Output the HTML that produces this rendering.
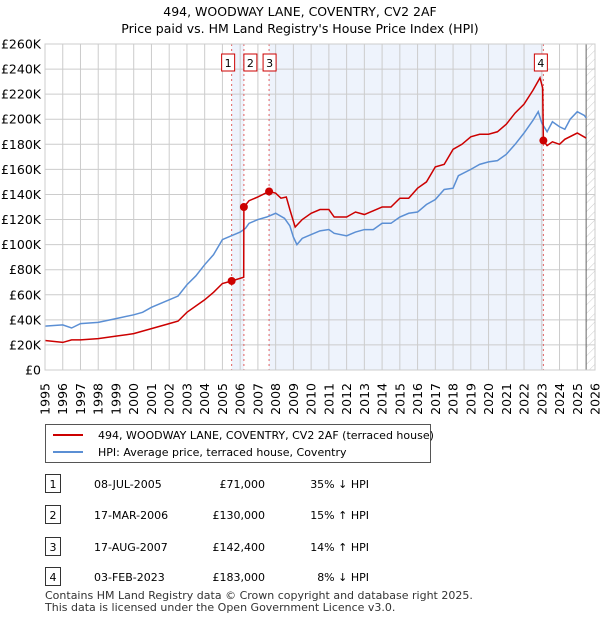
<!DOCTYPE html>
<html><head><meta charset="utf-8"><style>
body{margin:0;background:#fff;font-family:"Liberation Sans","DejaVu Sans",sans-serif;}
svg text{font-family:"DejaVu Sans","Liberation Sans",sans-serif;}
</style></head><body>
<svg id="chart" width="600" height="620" viewBox="0 0 600 620" xmlns="http://www.w3.org/2000/svg">
<defs><pattern id="hatch" width="6" height="6" patternUnits="userSpaceOnUse" patternTransform="rotate(45)"><line x1="0" y1="0" x2="0" y2="6" stroke="#ccc" stroke-width="1"/></pattern></defs>
<text x="300" y="16" text-anchor="middle" font-size="12.5">494, WOODWAY LANE, COVENTRY, CV2 2AF</text>
<text x="300" y="33" text-anchor="middle" font-size="12.5">Price paid vs. HM Land Registry's House Price Index (HPI)</text>
<g id="plot"></g>
<g>
<rect x="45.5" y="424.5" width="385" height="38" fill="#fff" stroke="#555"/>
<line x1="53" y1="435" x2="83" y2="435" stroke="#cc0000" stroke-width="2"/>
<text x="98" y="439" font-size="11">494, WOODWAY LANE, COVENTRY, CV2 2AF (terraced house)</text>
<line x1="53" y1="452" x2="83" y2="452" stroke="#5b8fd4" stroke-width="2"/>
<text x="98" y="456" font-size="11">HPI: Average price, terraced house, Coventry</text>
</g>
<g id="table" font-size="11"></g>
<text x="45" y="599" font-size="11" fill="#333">Contains HM Land Registry data © Crown copyright and database right 2025.</text>
<text x="45" y="611" font-size="11" fill="#333">This data is licensed under the Open Government Licence v3.0.</text>
</svg>
<script>
const hpiYears=[1995,1996,1996.5,1997,1998,1999,2000,2000.5,2001,2002,2002.5,2003,2003.5,2004,2004.5,2005,2005.5,2006,2006.3,2006.5,2007,2007.5,2008,2008.5,2008.8,2009,2009.2,2009.5,2010,2010.5,2011,2011.3,2012,2012.5,2013,2013.5,2014,2014.5,2015,2015.5,2016,2016.5,2017,2017.5,2018,2018.3,2019,2019.5,2020,2020.5,2021,2021.5,2022,2022.5,2022.8,2023,2023.3,2023.6,2024,2024.3,2024.6,2025,2025.4,2025.5];
const hpiValues=[35,36,33.5,37,38,41,44,46,50,56,59,68,75,84,92,104,107,110,113,117,120,122,125,121,115,106,100,105,108,111,112,109,107,110,112,112,117,117,122,125,126,132,136,144,145,155,160,164,166,167,172,180,189,199,206,197,190,198,194,192,200,206,203,201];
const priceYears=[1995,1996,1996.5,1997,1998,1999,2000,2001,2002,2002.5,2003,2004,2004.5,2005,2005.52,2006.2,2006.21,2006.5,2007,2007.63,2008,2008.3,2008.6,2008.8,2009.1,2009.5,2010,2010.5,2011,2011.3,2012,2012.5,2013,2013.5,2014,2014.5,2015,2015.5,2016,2016.5,2017,2017.5,2018,2018.5,2019,2019.5,2020,2020.5,2021,2021.5,2022,2022.5,2022.9,2023.05,2023.09,2023.3,2023.6,2024,2024.3,2025,2025.5];
const priceValues=[23.5,22,24,24,25,27,29,33,37,39,46,56,62,69,71,74,130,135,138,142.4,141,137,138,128,114,120,125,128,128,122,122,126,124,127,130,130,137,137,145,150,162,164,176,180,186,188,188,190,196,205,212,223,233,225,183,179,182,180,184,189,185];
const saleLabels=["1","2","3","4"];
const saleYears=[2005.52,2006.21,2007.63,2023.09];
const salePrices=[71,130,142.4,183];
const saleDates=["08-JUL-2005","17-MAR-2006","17-AUG-2007","03-FEB-2023"];
const salePriceText=["£71,000","£130,000","£142,400","£183,000"];
const saleHpiText=["35% ↓ HPI","15% ↑ HPI","14% ↑ HPI","8% ↓ HPI"];
const yTicks=[0,20,40,60,80,100,120,140,160,180,200,220,240,260];
const xTicks=[];for(let y=1995;y<=2026;y++)xTicks.push(y);

const NS="http://www.w3.org/2000/svg";
const X0=45,X1=595,Y0=370,Y1=44;
const xs=y=>X0+(y-1995)/(2026-1995)*(X1-X0);
const ys=v=>Y0-v/260*(Y0-Y1);
const plot=document.getElementById('plot');
function mk(tag,attrs,parent){const e=document.createElementNS(NS,tag);for(const k in attrs)e.setAttribute(k,attrs[k]);(parent||plot).appendChild(e);return e;}

let e;
e=mk('rect',{x:xs(saleYears[0]),y:Y1,width:xs(saleYears[1])-xs(saleYears[0]),height:Y0-Y1,fill:'#eef3fc'});


e=mk('rect',{x:xs(saleYears[2]),y:Y1,width:xs(saleYears[3])-xs(saleYears[2]),height:Y0-Y1,fill:'#eef3fc'});


e=mk('rect',{x:xs(2025.5),y:Y1,width:X1-xs(2025.5),height:Y0-Y1,fill:'url(#hatch)'});


yTicks.forEach(v=>{
 e=mk('line',{x1:X0,x2:X1,y1:ys(v),y2:ys(v),stroke:'#ccc','stroke-width':1});
 
 
 e=mk('text',{x:X0-4,y:ys(v)+4.5,'text-anchor':'end','font-size':12.5});
 e.textContent=v===0?'£0':'£'+v+'K';
 
 
});
xTicks.forEach(y=>{
 e=mk('line',{x1:xs(y),x2:xs(y),y1:Y1,y2:Y0,stroke:'#ccc','stroke-width':1});
 
 
 const tx=xs(y)+4.5;
 e=mk('text',{x:tx,y:383,'text-anchor':'end','font-size':12.5,transform:'rotate(-90 '+tx+' 383)'});
 e.textContent=y;
 
 
});
e=mk('line',{x1:xs(2025.5),x2:xs(2025.5),y1:Y1,y2:Y0,stroke:'#666','stroke-width':1});


saleYears.forEach((y,i)=>{
 e=mk('line',{x1:xs(y),x2:xs(y),y1:Y1,y2:Y0,stroke:'#e06060','stroke-width':1,'stroke-dasharray':'2,3'});
 
 
});
e=mk('polyline',{points:hpiYears.map((y,i)=>xs(y)+','+ys(hpiValues[i])).join(' '),fill:'none',stroke:'#5b8fd4','stroke-width':1.5});


e=mk('polyline',{points:priceYears.map((y,i)=>xs(y)+','+ys(priceValues[i])).join(' '),fill:'none',stroke:'#cc0000','stroke-width':1.5});


const boxOff=[-4,6,0,-3];
saleYears.forEach((y,i)=>{
 e=mk('circle',{cx:xs(y),cy:ys(salePrices[i]),r:4,fill:'#cc0000'});
 
 
 const bx=xs(y)+boxOff[i]-6;
 e=mk('rect',{x:bx,y:54,width:13,height:17,fill:'#fff',stroke:'#cc0000'});
 
 
 e=mk('text',{x:bx+6.5,y:67,'text-anchor':'middle','font-size':11});
 e.textContent=saleLabels[i];
 
 
});
e=mk('rect',{x:X0,y:Y1,width:X1-X0,height:Y0-Y1,fill:'none',stroke:'#ccc'});



const tbl=document.getElementById('table');
const rowY=[484,515,547,577];
saleLabels.forEach((l,i)=>{
 const y=rowY[i];
 e=mk('rect',{x:45.5,y:y-9.5,width:15,height:18,fill:'#fff',stroke:'#333'},tbl);
 
 
 e=mk('text',{x:53,y:y+4,'text-anchor':'middle'},tbl);e.textContent=l;
 
 
 e=mk('text',{x:94,y:y+4},tbl);e.textContent=saleDates[i];
 
 
 e=mk('text',{x:265,y:y+4,'text-anchor':'end'},tbl);e.textContent=salePriceText[i];
 
 
 e=mk('text',{x:369,y:y+4,'text-anchor':'end'},tbl);e.textContent=saleHpiText[i];
 
 
});
</script>
</body></html>
